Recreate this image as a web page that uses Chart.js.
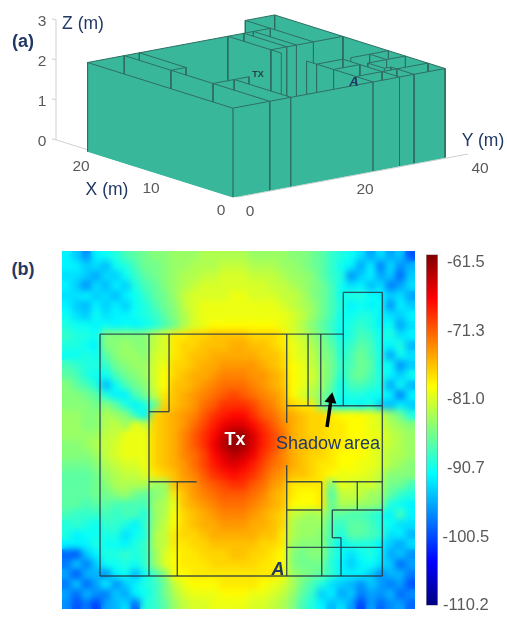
<!DOCTYPE html>
<html>
<head>
<meta charset="utf-8">
<title>Building and received power map</title>
<script src="https://cdn.jsdelivr.net/npm/chart.js@4"></script>
<style>
  body { margin: 0; background: #fff; width: 507px; height: 620px; position: relative; overflow: hidden; }
  canvas { position: absolute; }
  .lbl { position: absolute; transform: translate(-50%, -50%); white-space: nowrap; font-family: "Liberation Sans", sans-serif; }
</style>
</head>
<body>
<canvas id="building" width="507" height="230" style="left:0;top:0"></canvas>
<canvas id="heat" width="353" height="358" style="left:62px;top:251px"></canvas>
<canvas id="bar" width="81" height="380" style="left:426px;top:240px"></canvas>
<script>
// walls in metres, floor plan: [Y1, X1, Y2, X2]
const walls = [
  [0, 0, 36.9, 0], [0, 0, 0, 20.76], [0, 20.76, 31.8, 20.76], [31.8, 14.61, 31.8, 24.34],
  [31.8, 24.34, 36.9, 24.34], [36.9, 0, 36.9, 24.34],
  [6.4, 0, 6.4, 20.76], [6.4, 14.1, 9.02, 14.1], [9.02, 14.1, 9.02, 20.76],
  [6.4, 8.09, 12.64, 8.09], [10.1, 0, 10.1, 8.09],
  [24.4, 13.13, 24.4, 20.76], [27.19, 14.61, 27.19, 20.76], [28.85, 14.61, 28.85, 20.76],
  [24.4, 14.61, 36.9, 14.61], [24.4, 0, 24.4, 9.52],
  [24.4, 8.09, 28.98, 8.09], [30.36, 8.09, 36.9, 8.09], [28.98, 0, 28.98, 8.09],
  [24.4, 5.66, 28.98, 5.66], [33.63, 5.66, 33.63, 8.09], [30.36, 5.66, 36.9, 5.66],
  [30.36, 3.29, 30.36, 5.66], [30.36, 3.29, 31.5, 3.29], [31.5, 0, 31.5, 3.29],
  [24.4, 2.46, 36.9, 2.46]
];
const floors = [[0, 0, 36.9, 20.76], [31.8, 14.61, 36.9, 24.34]];
const wallHeight = 2.22;

const zTicks = [0, 1, 2, 3];
const xTicks = [0, 10, 20];
const yTicks = [0, 20, 40];

const barTicks = [-61.5, -71.3, -81.0, -90.7, -100.5, -110.2];
const barMin = -110.2, barMax = -60.4;

// received power, -dBm, top row first
const heatRows = [
  [92,94,97,92,91,90,88,87,86,85,85,84,84,84,83,83,83,83,83,84,84,84,84,85,85,86,87,89,90,91,93,96,93,96,94,100],
  [92,92,94,93,95,91,90,88,86,86,85,84,84,83,83,83,82,82,82,83,83,83,84,84,85,86,87,89,91,92,96,92,98,93,97,95],
  [93,93,94,96,93,94,91,89,87,86,85,84,83,83,82,82,81,81,81,82,82,82,83,84,84,85,87,89,90,97,94,92,96,94,99,94],
  [92,94,97,93,95,92,94,90,88,87,85,84,83,82,81,81,81,81,81,81,81,82,82,83,84,85,86,88,91,93,92,95,93,98,96,93],
  [93,93,92,94,93,95,92,91,89,87,86,84,82,81,81,81,81,80,80,81,81,81,82,82,83,85,86,88,91,90,90,91,92,94,93,96],
  [92,94,95,92,94,92,94,91,90,88,86,85,82,81,80,80,80,80,80,80,80,80,81,82,83,84,86,88,90,92,91,92,91,97,92,94],
  [91,93,94,91,93,92,92,91,90,89,87,85,83,81,80,80,80,80,80,80,80,80,80,81,82,84,86,88,91,91,90,90,92,93,94,92],
  [90,91,91,92,91,92,91,92,91,90,88,86,83,81,80,79,79,79,79,79,79,79,80,81,83,85,87,89,91,90,89,90,92,91,96,93],
  [89,90,90,91,85,85,85,85,85,82,81,78,78,77,77,76,76,76,76,77,77,77,78,81,82,84,86,88,91,90,88,89,91,90,93,92],
  [90,90,91,92,85,85,84,85,85,82,81,78,77,77,76,76,76,75,75,76,76,77,78,80,81,83,85,87,90,89,87,88,91,92,90,95],
  [91,91,90,91,87,85,84,84,85,81,81,78,77,76,76,75,75,75,75,75,76,76,77,80,81,82,85,86,90,88,86,88,90,96,91,93],
  [88,89,90,90,89,86,85,84,84,81,80,77,77,76,75,75,74,74,74,74,75,76,77,79,80,82,84,86,89,88,86,87,91,91,97,94],
  [87,88,90,91,91,88,86,85,84,81,79,77,76,75,75,74,73,73,73,74,74,75,76,79,80,81,84,86,90,87,86,88,90,92,94,91],
  [85,87,88,90,95,91,88,86,85,81,79,76,76,75,74,73,72,72,72,73,74,75,76,79,80,82,84,87,91,88,88,89,90,96,91,95],
  [85,85,86,87,90,92,92,88,86,82,78,76,75,74,73,72,71,70,71,72,73,74,75,79,81,83,85,88,91,90,90,91,91,92,98,92],
  [85,85,85,86,85,87,90,92,90,87,77,76,75,74,72,71,69,69,69,70,72,73,75,77,78,78,86,90,92,91,92,90,94,95,92,94],
  [84,84,85,85,83,84,85,89,92,77,76,75,74,73,71,69,68,67,67,69,71,72,74,75,76,77,77,78,79,79,79,80,81,84,86,90],
  [84,84,85,85,83,82,84,80,82,77,76,75,74,72,70,68,66,65,65,67,69,71,73,75,76,77,77,78,78,79,79,80,81,83,84,85],
  [84,84,84,84,82,82,80,80,80,77,76,75,73,71,69,67,64,62,62,65,68,70,72,75,76,77,77,78,78,79,79,80,80,82,83,84],
  [85,85,84,83,82,81,80,80,80,77,76,75,73,71,69,66,63,61,62,65,68,70,72,75,76,76,77,78,78,79,79,80,81,82,83,84],
  [85,85,85,84,82,81,80,80,80,77,76,75,73,72,70,67,65,63,64,66,69,71,73,75,76,77,77,78,79,79,79,80,81,83,83,84],
  [86,86,86,85,83,82,81,81,80,77,76,75,74,72,70,68,66,65,66,68,70,72,73,75,76,77,78,78,79,79,80,80,81,83,84,85],
  [87,87,87,86,84,83,82,82,81,78,77,76,74,73,71,69,68,67,68,69,71,73,74,76,76,77,78,79,80,80,80,81,82,85,85,85],
  [87,87,87,86,85,83,83,83,83,84,84,76,75,74,72,71,70,69,69,71,72,74,75,78,78,78,78,86,80,81,82,81,83,86,86,88],
  [87,87,87,86,86,85,84,86,87,85,84,78,76,74,73,72,71,71,71,72,73,75,76,78,79,79,78,88,82,82,82,84,84,87,89,90],
  [87,87,88,87,87,88,88,88,88,84,83,80,76,75,74,73,72,72,72,73,74,75,76,79,79,79,78,87,83,83,84,84,85,90,91,92],
  [88,89,89,89,88,89,88,88,90,84,83,79,77,76,75,74,73,73,73,74,75,76,77,82,83,84,83,87,87,88,88,89,90,92,88,92],
  [90,89,90,91,89,89,90,92,89,84,82,79,77,76,75,75,74,74,74,75,75,76,77,83,84,84,84,88,89,87,87,88,90,91,93,93],
  [90,92,91,91,90,90,93,91,90,83,82,78,77,77,76,75,75,75,75,75,76,76,78,83,84,84,85,88,90,87,87,88,89,93,92,95],
  [92,92,92,90,91,91,92,90,89,83,82,78,78,77,77,76,76,76,76,76,77,77,78,84,85,85,85,89,92,90,90,90,92,94,96,93],
  [99,100,94,92,90,90,89,90,89,84,81,79,78,78,77,77,77,76,76,77,77,78,79,85,86,85,85,89,91,93,91,90,92,96,94,97],
  [98,94,98,94,91,91,90,91,89,84,81,79,78,78,78,77,77,77,77,77,78,78,79,85,86,86,86,90,92,94,92,91,93,94,99,96],
  [96,100,95,95,97,92,91,95,91,88,85,79,79,78,78,78,78,78,78,78,78,78,79,84,85,86,87,89,92,92,92,94,97,95,95,98],
  [98,94,99,96,92,97,94,92,90,89,86,82,80,79,79,79,78,78,78,78,79,80,81,83,86,88,90,93,94,95,97,94,96,98,96,100],
  [96,99,95,97,98,94,96,92,91,89,86,83,81,80,80,80,79,79,79,80,80,81,82,84,87,89,94,92,96,94,98,96,97,95,99,97],
  [97,100,98,101,96,95,93,99,90,89,87,84,82,81,81,80,80,80,80,81,81,82,83,85,88,90,92,95,93,96,101,96,99,97,96,99]
];

// map extent in metres, same frame as walls
const mapY = [-4.97, 41.17];
const mapX = [-2.83, 27.89];
const shadowArrow = [{x: 29.67, y: 12.78}, {x: 30.2, y: 15.17}];

const TEAL = "#38b79b";
const EDGE = "#2f6f63";
const AXIS = "#cfcfcf";
const NAVY = "#1f3864";
const TICK = "#595959";

// oblique view of panel (a), metres -> picture units
function project(y, x, z) {
  return { x: 238 + 5.75 * y - 7 * x, y: 197 - 1.075 * y - 2.2 * x - 40 * z };
}
// building corner sits a little off the axis origin
function projectWall(y, x, z) {
  return project(y - 0.55, x + 0.28, z);
}

function jet(t) {
  const r = Math.min(4 * t - 1.5, -4 * t + 4.5);
  const g = Math.min(4 * t - 0.5, -4 * t + 3.5);
  const b = Math.min(4 * t + 0.5, -4 * t + 2.5);
  const c = v => Math.round(255 * Math.max(0, Math.min(1, v)));
  return "rgb(" + c(r) + "," + c(g) + "," + c(b) + ")";
}

// cut walls where others meet them, so crossings can be depth sorted
function splitWalls(list) {
  const out = [];
  list.forEach(w => {
    const along = w[1] === w[3];
    const from = along ? w[0] : w[1];
    const to = along ? w[2] : w[3];
    const at = along ? w[1] : w[0];
    const cuts = [from];
    list.forEach(o => {
      if ((o[1] === o[3]) === along) return;
      const c = along ? o[0] : o[1];
      const lo = along ? o[1] : o[0];
      const hi = along ? o[3] : o[2];
      if (c > from && c < to && at >= lo && at <= hi) cuts.push(c);
    });
    cuts.push(to);
    cuts.sort((a, b) => a - b);
    for (let i = 0; i < cuts.length - 1; i++) {
      if (along) out.push([cuts[i], at, cuts[i + 1], at]);
      else out.push([at, cuts[i], at, cuts[i + 1]]);
    }
  });
  return out;
}

// where a wall meets a view ray, bigger is further from the viewer
function wallDepth(w, c) {
  const c1 = 5.75 * w[0] - 7 * w[1], c2 = 5.75 * w[2] - 7 * w[3];
  const s = (c - c1) / (c2 - c1);
  return 7 * (w[0] + s * (w[2] - w[0])) + 5.75 * (w[1] + s * (w[3] - w[1]));
}

function isBehind(a, b) {
  const ca = [5.75 * a[0] - 7 * a[1], 5.75 * a[2] - 7 * a[3]];
  const cb = [5.75 * b[0] - 7 * b[1], 5.75 * b[2] - 7 * b[3]];
  const lo = Math.max(Math.min(...ca), Math.min(...cb));
  const hi = Math.min(Math.max(...ca), Math.max(...cb));
  if (hi - lo < 0.01) return false;
  return wallDepth(a, (lo + hi) / 2) > wallDepth(b, (lo + hi) / 2) + 0.001;
}

// painter's order, back walls first
function sortWalls(list) {
  const left = list.slice();
  const out = [];
  while (left.length) {
    let i = left.findIndex(w => !left.some(o => o !== w && isBehind(o, w)));
    if (i < 0) i = 0;
    out.push(left.splice(i, 1)[0]);
  }
  return out;
}

function shape(points, fill, line, width) {
  return {
    data: points, showLine: true, fill: fill ? "shape" : false,
    backgroundColor: fill, borderColor: line, borderWidth: width,
    pointRadius: 0, tension: 0, clip: false
  };
}

// panel (a), wall outline stays open along the floor
const sets3d = [];
sortWalls(splitWalls(walls)).forEach(w => {
  const pts = [
    projectWall(w[0], w[1], 0), projectWall(w[0], w[1], wallHeight),
    projectWall(w[2], w[3], wallHeight), projectWall(w[2], w[3], 0)
  ];
  sets3d.unshift(shape(pts, TEAL, EDGE, 1));
});
floors.forEach(f => {
  const pts = [
    projectWall(f[0], f[1], 0), projectWall(f[2], f[1], 0),
    projectWall(f[2], f[3], 0), projectWall(f[0], f[3], 0), projectWall(f[0], f[1], 0)
  ];
  sets3d.push(shape(pts, TEAL, TEAL, 1));
});
sets3d.push(shape([project(0, 26, 0), project(0, 26, 3)], null, AXIS, 1));
sets3d.push(shape([project(0, 26, 0), project(0, 0, 0), project(40, 0, 0)], null, AXIS, 1));
zTicks.forEach(z => {
  const p = project(0, 26, z);
  sets3d.push(shape([p, {x: p.x - 4, y: p.y - 1}], null, AXIS, 1));
});

new Chart(document.getElementById("building"), {
  type: "scatter",
  data: { datasets: sets3d },
  options: {
    responsive: false, animation: false,
    layout: { padding: 0, autoPadding: false },
    plugins: { legend: { display: false }, tooltip: { enabled: false } },
    scales: {
      x: { type: "linear", min: 0, max: 507, display: false },
      y: { type: "linear", min: 0, max: 230, reverse: true, display: false }
    }
  }
});

// panel (b)
const cells = [];
const cellColors = [];
heatRows.forEach((row, j) => {
  row.forEach((v, i) => {
    cells.push({
      x: mapY[0] + (i + 0.5) * (mapY[1] - mapY[0]) / row.length,
      y: mapX[1] - (j + 0.5) * (mapX[1] - mapX[0]) / heatRows.length
    });
    cellColors.push(jet((-v - barMin) / (barMax - barMin)));
  });
});

const heatSets = walls.map(w => ({
  data: [{x: w[0], y: w[1]}, {x: w[2], y: w[3]}],
  showLine: true, borderColor: "rgba(38,58,70,0.85)", borderWidth: 1.4, pointRadius: 0
}));
heatSets.unshift({
  data: shadowArrow, showLine: true, borderColor: "#000", borderWidth: 3.5,
  pointRadius: [0, 7], pointStyle: "triangle", rotation: 10,
  pointBackgroundColor: "#000", pointBorderWidth: 0
});
heatSets.push({
  label: "power", data: cells, pointStyle: "rect", pointRadius: 7.2, pointBorderWidth: 0,
  pointBackgroundColor: cellColors, showLine: false
});

// soften the cells before walls get drawn on top
const smoothCells = {
  id: "smoothCells",
  afterDatasetDraw(chart, args) {
    if (chart.data.datasets[args.index].label !== "power") return;
    const c = chart.ctx;
    c.save();
    c.filter = "blur(3.5px)";
    c.drawImage(chart.canvas, 0, 0);
    c.restore();
  }
};

new Chart(document.getElementById("heat"), {
  type: "scatter",
  data: { datasets: heatSets },
  plugins: [smoothCells],
  options: {
    responsive: false, animation: false,
    layout: { padding: 0, autoPadding: false },
    plugins: { legend: { display: false }, tooltip: { enabled: false } },
    scales: {
      x: { type: "linear", min: mapY[0], max: mapY[1], display: false },
      y: { type: "linear", min: mapX[0], max: mapX[1], display: false }
    }
  }
});

// colour bar
new Chart(document.getElementById("bar"), {
  type: "bar",
  data: {
    labels: ["dBm"],
    datasets: [{
      data: [[barMin, barMax]],
      barPercentage: 1, categoryPercentage: 1,
      borderWidth: 1, borderColor: "#9a9a9a", borderSkipped: false,
      backgroundColor(ctx) {
        const area = ctx.chart.chartArea;
        if (!area) return "#fff";
        const g = ctx.chart.ctx.createLinearGradient(0, area.bottom, 0, area.top);
        for (let i = 0; i <= 16; i++) g.addColorStop(i / 16, jet(i / 16));
        return g;
      }
    }]
  },
  options: {
    responsive: false, animation: false,
    layout: { padding: { top: 11, bottom: 11 }, autoPadding: false },
    plugins: { legend: { display: false }, tooltip: { enabled: false } },
    scales: {
      x: { display: false },
      y: {
        position: "right", min: barMin, max: barMax,
        grid: { display: false, drawTicks: false }, border: { display: false },
        afterBuildTicks(scale) { scale.ticks = barTicks.map(v => ({ value: v })); },
        afterFit(scale) { scale.width = 69; },
        ticks: {
          autoSkip: false, crossAlign: "center", padding: 4.5, color: TICK,
          font: { family: "Liberation Sans", size: 16.5 },
          callback: v => v.toFixed(1)
        }
      }
    }
  }
});

// text
function label(text, x, y, css) {
  const d = document.createElement("div");
  d.className = "lbl";
  d.textContent = text;
  d.style.left = x + "px";
  d.style.top = y + "px";
  d.style.cssText += css;
  document.body.appendChild(d);
}
const tickCss = "font-size:15.5px;color:" + TICK + ";";
const nameCss = "font-size:17.5px;color:" + NAVY + ";";
zTicks.forEach(z => { const p = project(0, 26, z); label(String(z), p.x - 14, p.y + 1, tickCss); });
xTicks.forEach(v => { const p = project(0, v, 0); label(String(v), p.x - 17, p.y + 13, tickCss); });
yTicks.forEach(v => { const p = project(v, 0, 0); label(String(v), p.x + 12, p.y + 13.5, tickCss); });
label("Z (m)", 83, 23, nameCss);
label("X (m)", 107, 189, nameCss);
label("Y (m)", 483, 140, nameCss);
label("(a)", 23, 41, "font-size:18px;font-weight:bold;color:" + NAVY + ";");
label("(b)", 23, 269, "font-size:18px;font-weight:bold;color:" + NAVY + ";");
label("TX", 258, 74, "font-size:9px;font-weight:bold;color:#24443f;");
label("A", 354, 81, "font-size:13px;font-weight:bold;font-style:italic;color:" + NAVY + ";");
label("Tx", 235, 439, "font-size:18px;font-weight:bold;color:#fff;");
label("Shadow area", 328, 443, "font-size:18px;word-spacing:-2px;color:" + NAVY + ";");
label("A", 278, 569, "font-size:18px;font-weight:bold;font-style:italic;color:" + NAVY + ";");
</script>
</body>
</html>
